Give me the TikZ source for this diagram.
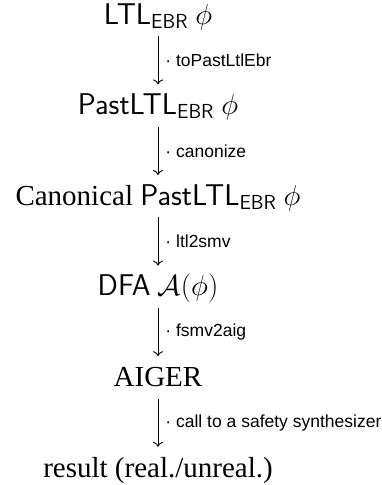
\RequirePackage{fix-cm}
\documentclass[tikz,border=0pt]{standalone}
\usepackage{amsmath}
\usepackage{fontspec}
\setmainfont{Liberation Serif}
\newfontfamily\toolfont{Liberation Sans}
\usetikzlibrary{arrows.meta}
\newcommand{\lang}[1]{{\sffamily\fontsize{30}{34}\selectfont #1}}

\tikzset{
  stage/.style={anchor=base, font=\fontsize{29}{34}\selectfont,
    text height=24pt, text depth=6pt, inner sep=6pt},
  tool/.style={anchor=west, font=\toolfont\fontsize{17.5}{20}\selectfont,
    inner sep=0pt, xshift=7pt},
}

\begin{document}
\begin{tikzpicture}[x=1pt, y=1pt]
\useasboundingbox (0,0) rectangle (381,-485);
\node[stage] (ltl) at (158,-24) {\lang{LTL}$_{\textsf{EBR}}$ $\phi$};
\node[stage] (past) at (158,-114.6) {\lang{PastLTL}$_{\textsf{EBR}}$ $\phi$};
\node[stage] (canon) at (158,-205.2) {Canonical \lang{PastLTL}$_{\textsf{EBR}}$ $\phi$};
\node[stage] (dfa) at (158,-295.8) {\lang{DFA} $\mathcal{A}(\phi)$};
\node[stage] (aiger) at (158,-386.4) {AIGER};
\node[stage] (result) at (158,-477) {result (real./unreal.)};
\foreach \a/\b/\l in {ltl/past/toPastLtlEbr, past/canon/canonize,
  canon/dfa/ltl2smv, dfa/aiger/fsmv2aig, aiger/result/call to a safety synthesizer}
\draw[-{To[length=5pt,width=10pt]}, line width=0.9pt] (\a) -- (\b) node[tool, midway] {· \l};
\end{tikzpicture}
\end{document}
